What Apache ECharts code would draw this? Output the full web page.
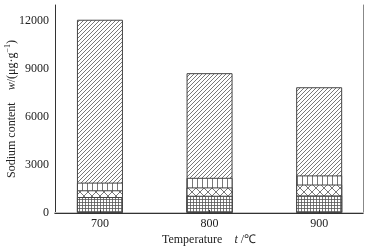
<!DOCTYPE html>
<html>
<head>
<meta charset="utf-8">
<script src="https://cdn.jsdelivr.net/npm/echarts@6/dist/echarts.min.js"></script>
<style>
  html, body { margin: 0; padding: 0; background: #fff; }
  #main { width: 372px; height: 249px; }
</style>
</head>
<body>
<div id="main"></div>
<script>
var temps = [700, 800, 900];
// stacked parts, bottom to top
var partGrid = [1000, 1080, 1100];
var partCross = [420, 520, 680];
var partVert = [480, 600, 570];
var partDiag = [10180, 6540, 5510];
var yTicks = [0, 3000, 6000, 9000, 12000];

// 填充纹理
function makePattern(size, draw) {
  var c = document.createElement('canvas');
  c.width = size; c.height = size;
  var ctx = c.getContext('2d');
  ctx.fillStyle = '#fff';
  ctx.fillRect(0, 0, size, size);
  ctx.strokeStyle = '#555';
  ctx.lineWidth = 0.8;
  draw(ctx, size);
  return { image: c, repeat: 'repeat' };
}
var patDiag = makePattern(4, function (ctx, s) {
  ctx.beginPath();
  ctx.moveTo(-1, s + 1); ctx.lineTo(s + 1, -1);
  ctx.moveTo(-1, 1); ctx.lineTo(1, -1);
  ctx.moveTo(s - 1, s + 1); ctx.lineTo(s + 1, s - 1);
  ctx.stroke();
});
var patVert = makePattern(5, function (ctx, s) {
  ctx.beginPath();
  ctx.moveTo(2.5, 0); ctx.lineTo(2.5, s);
  ctx.stroke();
});
var patCross = makePattern(8, function (ctx, s) {
  ctx.beginPath();
  ctx.moveTo(0, 0); ctx.lineTo(s, s);
  ctx.moveTo(s, 0); ctx.lineTo(0, s);
  ctx.stroke();
});
var patGrid = makePattern(3, function (ctx, s) {
  ctx.beginPath();
  ctx.moveTo(1.5, 0); ctx.lineTo(1.5, s);
  ctx.moveTo(0, 1.5); ctx.lineTo(s, 1.5);
  ctx.stroke();
});

// 累加 (value axis can't stack, so draw cumulative bars on top of each other)
function cumulate(list) {
  return temps.map(function (t, i) {
    var sum = 0;
    list.forEach(function (a) { sum += a[i]; });
    return [t, sum];
  });
}
function barSeries(name, data, pat) {
  return {
    name: name,
    type: 'bar',
    barWidth: 46,
    barGap: '-100%',
    data: data,
    itemStyle: { color: pat, borderColor: '#444', borderWidth: 1 },
    silent: true
  };
}

var font = 'Liberation Serif';
var chart = echarts.init(document.getElementById('main'));
chart.setOption({
  animation: false,
  textStyle: { fontFamily: font },
  grid: { left: 55, right: 9, top: 5, bottom: 36, containLabel: false, outerBoundsMode: 'none' },
  xAxis: [{
    type: 'value',
    min: 659,
    max: 940,
    z: 10,
    axisLine: { lineStyle: { color: '#333', width: 1 } },
    axisTick: { show: true, inside: true, length: 3, customValues: temps, lineStyle: { color: '#333' } },
    axisLabel: { customValues: temps, color: '#222', fontSize: 12, fontFamily: font, margin: 5 },
    splitLine: { show: false },
    name: '{a|Temperature}    {i|t}{a| /℃}',
    nameLocation: 'middle',
    nameGap: 21,
    nameMoveOverlap: false,
    nameTextStyle: {
      rich: {
        a: { fontFamily: font, fontSize: 12, color: '#222' },
        i: { fontFamily: font, fontSize: 12, color: '#222', fontStyle: 'italic' }
      }
    }
  }, {
    type: 'value',
    position: 'top',
    min: 659,
    max: 940,
    axisLine: { show: true, lineStyle: { color: '#c4c4c4', width: 2 } },
    axisTick: { show: false },
    axisLabel: { show: false },
    splitLine: { show: false }
  }],
  yAxis: [{
    type: 'value',
    min: 0,
    max: 13000,
    interval: 3000,
    axisLine: { show: true, lineStyle: { color: '#333', width: 1 } },
    axisTick: { show: false },
    axisLabel: {
      customValues: yTicks, color: '#222', fontSize: 12, fontFamily: font, margin: 6,
      formatter: function (v) { return String(v); }
    },
    splitLine: { show: false },
    name: '{a|Sodium content}    {i|w}{a|/(μg·g}{s|−1}{a|)}',
    nameLocation: 'middle',
    nameRotate: 90,
    nameGap: 36,
    nameMoveOverlap: false,
    nameTextStyle: {
      rich: {
        a: { fontFamily: font, fontSize: 12, color: '#222' },
        i: { fontFamily: font, fontSize: 12, color: '#222', fontStyle: 'italic' },
        s: { fontFamily: font, fontSize: 8, color: '#222', padding: [0, 0, 7, 0] }
      }
    }
  }, {
    type: 'value',
    position: 'right',
    min: 0,
    max: 13000,
    axisLine: { show: true, lineStyle: { color: '#888', width: 1 } },
    axisTick: { show: false },
    axisLabel: { show: false },
    splitLine: { show: false }
  }],
  series: [
    barSeries('diag', cumulate([partGrid, partCross, partVert, partDiag]), patDiag),
    barSeries('vert', cumulate([partGrid, partCross, partVert]), patVert),
    barSeries('cross', cumulate([partGrid, partCross]), patCross),
    barSeries('grid', cumulate([partGrid]), patGrid)
  ]
});
</script>
</body>
</html>
